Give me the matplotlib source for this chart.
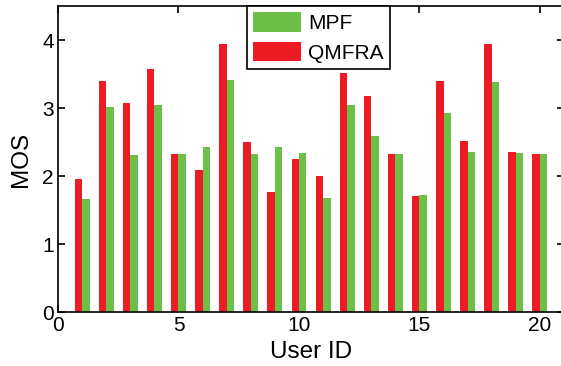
import matplotlib
matplotlib.use('Agg')
import matplotlib.pyplot as plt
import numpy as np

plt.rcParams['font.family'] = ['Liberation Sans', 'DejaVu Sans']

# MOS per user
users = np.arange(1, 21)
qmfra = [1.96, 3.40, 3.07, 3.57, 2.32, 2.09, 3.94, 2.50, 1.77, 2.25,
         2.00, 3.52, 3.17, 2.32, 1.71, 3.40, 2.52, 3.94, 2.35, 2.32]
mpf = [1.66, 3.01, 2.31, 3.04, 2.32, 2.42, 3.41, 2.32, 2.43, 2.34,
       1.68, 3.04, 2.59, 2.32, 1.72, 2.92, 2.35, 3.39, 2.34, 2.32]

red = '#ed1c24'
green = '#6cbf47'

fig = plt.figure(figsize=(5.61, 3.66), dpi=100)
ax = fig.add_axes([0.1034, 0.1475, 0.902, 0.836])

w = 0.31
b_mpf = ax.bar(users + w / 2, mpf, width=w, color=green, label='MPF', zorder=2)
b_q = ax.bar(users - w / 2, qmfra, width=w, color=red, label='QMFRA', zorder=2)

ax.set_xlim(0, 21)
ax.set_ylim(0, 4.5)
ax.set_xticks([0, 5, 10, 15, 20])
ax.set_yticks([0, 1, 2, 3, 4])
ax.tick_params(direction='in', top=True, right=True, labelsize=15, length=5, width=1.2, pad=3)
for s in ax.spines.values():
    s.set_linewidth(1.2)

ax.set_xlabel('User ID', fontsize=17.5, labelpad=4)
ax.set_ylabel('MOS', fontsize=17.5, labelpad=7)

leg = ax.legend(handles=[b_mpf, b_q], loc='upper left', bbox_to_anchor=(0.3735, 1.0),
                fontsize=15, frameon=True, fancybox=False, edgecolor='black',
                framealpha=1, handlelength=2.3, handleheight=1.05, labelspacing=0.42,
                borderpad=0.3, handletextpad=0.35, borderaxespad=0)
leg.get_frame().set_linewidth(1.2)

fig.savefig('out.png', dpi=100)
